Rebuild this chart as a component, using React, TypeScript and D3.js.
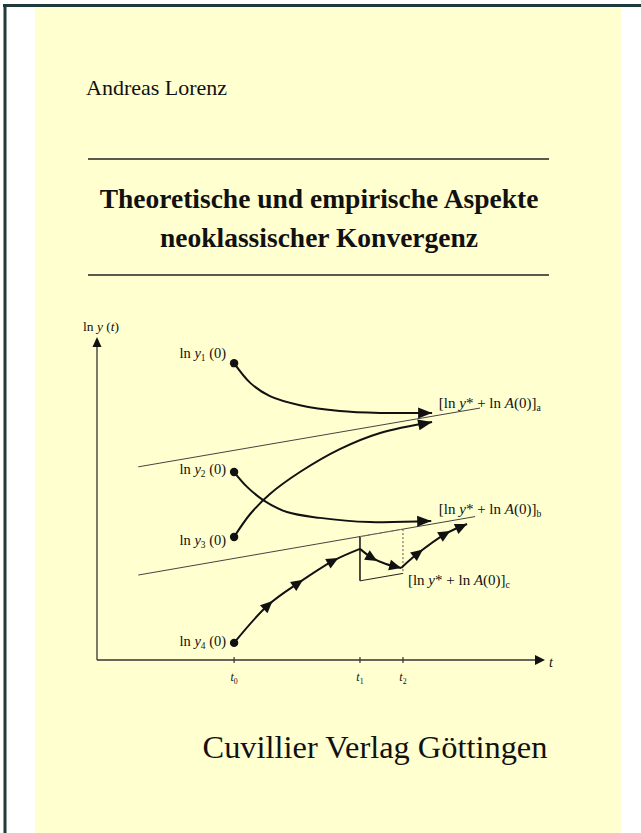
import { useEffect, useRef } from 'react';
import * as d3 from 'd3';

type Pt = [number, number];

// cover texts
const author = 'Andreas Lorenz';
const titleLines = ['Theoretische und empirische Aspekte', 'neoklassischer Konvergenz'];
const publisher = 'Cuvillier Verlag Göttingen';

// diagram values (abstract units: time 0..100, ln y 0..100)
const ticks = [
  { name: 't', sub: '0', t: 30.6 },
  { name: 't', sub: '1', t: 58.7 },
  { name: 't', sub: '2', t: 68.3 },
];

// steady state growth paths
const trendA: Pt[] = [[9.2, 59.8], [85.5, 78.0]];
const trendB: Pt[] = [[9.2, 26.3], [84.4, 44.4]];
const trendCBottom = 24.5; // ln y level after the shock at t1

// convergence paths
const pathY1: Pt[] = [[30.6, 91.9], [34.2, 85.8], [38.6, 81.7], [45.3, 78.9], [54.2, 77.1], [63.2, 76.5], [74.8, 76.5]];
const pathY2: Pt[] = [[30.6, 58.2], [33.5, 53.6], [37.1, 49.5], [42.4, 45.8], [49.8, 44.0], [60.9, 42.7], [74.6, 43.0]];
const pathY3: Pt[] = [[30.6, 38.1], [34.2, 45.2], [38.6, 51.4], [45.3, 58.2], [54.2, 65.3], [63.2, 70.3], [74.8, 73.7]];
const y4Rise: Pt[] = [[30.6, 5.3], [38.2, 17.0], [44.9, 23.8], [52.7, 30.7], [58.7, 34.4]];
const y4Drop: Pt[] = [[58.7, 34.4], [61.4, 31.6], [64.5, 29.7], [67.9, 28.5]];
const y4Recover: Pt[] = [[67.9, 28.5], [71.7, 33.1], [77.7, 39.0], [82.6, 42.1]];

const startLabels = [
  { sub: '1', at: pathY1[0], base: 91.9 + 1.6 },
  { sub: '2', at: pathY2[0], base: 58.2 - 0.6 },
  { sub: '3', at: pathY3[0], base: 38.1 - 2.5 },
  { sub: '4', at: y4Rise[0], base: 5.3 - 1.0 },
];
const steadyLabels = [
  { sub: 'a', pos: [76.3, 78.0] as Pt },
  { sub: 'b', pos: [76.3, 45.2] as Pt },
  { sub: 'c', pos: [69.4, 23.2] as Pt },
];

interface Part { t: string; i?: boolean; sub?: boolean }

export default function App() {
  const svgRef = useRef<SVGSVGElement>(null);

  useEffect(() => {
    if (!svgRef.current) return;
    const W = 641;
    const H = 833;
    const svg = d3.select(svgRef.current);
    svg.selectAll('*').remove();
    svg.attr('width', W).attr('height', H).style('font-family', '"Liberation Serif", "Times New Roman", serif');

    // page
    svg.append('rect').attr('width', W).attr('height', H).attr('fill', '#ffffff');
    svg.append('rect').attr('x', 35).attr('y', 8).attr('width', 586).attr('height', H - 8).attr('fill', '#ffffd0');
    svg.append('line').attr('x1', 3).attr('x2', W).attr('y1', 5.5).attr('y2', 5.5).attr('stroke', '#1f3a3a').attr('stroke-width', 3);
    svg.append('line').attr('x1', 5).attr('x2', 5).attr('y1', 4).attr('y2', H).attr('stroke', '#1f3a3a').attr('stroke-width', 3);

    svg.append('text').attr('x', 86).attr('y', 95).attr('font-size', 22).attr('fill', '#111').text(author);
    [159, 275].forEach(y => {
      svg.append('line').attr('x1', 88).attr('x2', 549).attr('y1', y).attr('y2', y).attr('stroke', '#222').attr('stroke-width', 1.6);
    });
    titleLines.forEach((line, i) => {
      svg.append('text').attr('x', 319).attr('y', 208 + i * 38.5).attr('text-anchor', 'middle')
        .attr('font-size', 27.5).attr('font-weight', 'bold').attr('fill', '#111').text(line);
    });
    svg.append('text').attr('x', 375).attr('y', 758).attr('text-anchor', 'middle').attr('font-size', 32.4).attr('fill', '#111').text(publisher);

    // diagram scales
    const x = d3.scaleLinear().domain([0, 100]).range([97, 545]);
    const y = d3.scaleLinear().domain([0, 100]).range([660, 337]);
    const g = svg.append('g');

    const mathText = (px: number, py: number, parts: Part[], size: number, anchor = 'start') => {
      const t = g.append('text').attr('x', px).attr('y', py).attr('font-size', size).attr('fill', '#111').attr('text-anchor', anchor);
      let shifted = false;
      parts.forEach(p => {
        const s = t.append('tspan').text(p.t);
        if (p.i) s.attr('font-style', 'italic');
        if (p.sub) {
          s.attr('font-size', size * 0.65).attr('dy', size * 0.22);
          shifted = true;
        } else if (shifted) {
          s.attr('dy', -size * 0.22);
          shifted = false;
        }
      });
      return t;
    };

    const arrowHead = (tip: Pt, ang: number, len: number, half: number) => {
      const bx = tip[0] - len * Math.cos(ang);
      const by = tip[1] - len * Math.sin(ang);
      const nx = -Math.sin(ang) * half;
      const ny = Math.cos(ang) * half;
      g.append('path')
        .attr('d', `M${tip[0]},${tip[1]}L${bx + nx},${by + ny}L${bx - nx},${by - ny}Z`)
        .attr('fill', '#111');
    };

    // axes
    g.append('line').attr('x1', x(0)).attr('x2', x(0)).attr('y1', y(0)).attr('y2', y(100) + 8).attr('stroke', '#333').attr('stroke-width', 1.3);
    g.append('line').attr('x1', x(0)).attr('x2', x(100) - 8).attr('y1', y(0)).attr('y2', y(0)).attr('stroke', '#333').attr('stroke-width', 1.3);
    arrowHead([x(0), y(100)], -Math.PI / 2, 10, 4.5);
    arrowHead([x(100), y(0)], 0, 10, 5);
    mathText(x(0) - 14, y(100) - 6, [{ t: 'ln ' }, { t: 'y', i: true }, { t: ' (' }, { t: 't', i: true }, { t: ')' }], 13.5);
    mathText(x(100) + 4, y(0) + 7, [{ t: 't', i: true }], 14);

    ticks.forEach(tk => {
      g.append('line').attr('x1', x(tk.t)).attr('x2', x(tk.t)).attr('y1', y(0) - 3).attr('y2', y(0) + 3).attr('stroke', '#333').attr('stroke-width', 1.2);
      mathText(x(tk.t), y(0) + 21, [{ t: tk.name, i: true }, { t: tk.sub, sub: true }], 12, 'middle');
    });

    // steady state lines
    const thin = (a: Pt, b: Pt, dash?: string, color = '#444', w = 1) => {
      const l = g.append('line').attr('x1', x(a[0])).attr('y1', y(a[1])).attr('x2', x(b[0])).attr('y2', y(b[1]))
        .attr('stroke', color).attr('stroke-width', w);
      if (dash) l.attr('stroke-dasharray', dash);
    };
    thin(trendA[0], trendA[1]);
    thin(trendB[0], trendB[1]);
    const onB = (t: number) => trendB[0][1] + (trendB[1][1] - trendB[0][1]) * (t - trendB[0][0]) / (trendB[1][0] - trendB[0][0]);
    const slopeB = (trendB[1][1] - trendB[0][1]) / (trendB[1][0] - trendB[0][0]);
    const t1 = ticks[1].t;
    const t2 = ticks[2].t;
    const cEnd = trendCBottom + slopeB * (t2 - t1);
    thin([t1, onB(t1)], [t1, trendCBottom], undefined, '#111', 1.5);
    thin([t1, trendCBottom], [t2, cEnd], undefined, '#222', 1);
    thin([t2, onB(t2)], [t2, cEnd], '2,2', '#555', 1);
    thin([t1, onB(t1)], [t2, onB(t2)], '2,2', '#777', 1);

    // convergence paths
    const line = d3.line<Pt>().x(d => x(d[0])).y(d => y(d[1])).curve(d3.curveCatmullRom.alpha(0.5));
    const drawPath = (pts: Pt[]) => {
      g.append('path').attr('d', line(pts) as string).attr('fill', 'none').attr('stroke', '#111').attr('stroke-width', 2);
    };
    const angAt = (pts: Pt[], i: number) => {
      const a = pts[Math.max(0, i - 1)];
      const b = pts[Math.min(pts.length - 1, i + 1)];
      return Math.atan2(y(b[1]) - y(a[1]), x(b[0]) - x(a[0]));
    };
    const midArrows = (pts: Pt[], idx: number[], withEnd: boolean, len = 12, half = 5.5) => {
      idx.forEach(i => {
        const a = angAt(pts, i);
        const cx = x(pts[i][0]);
        const cy = y(pts[i][1]);
        arrowHead([cx + Math.cos(a) * len / 2, cy + Math.sin(a) * len / 2], a, len, half);
      });
      if (withEnd) {
        const n = pts.length - 1;
        arrowHead([x(pts[n][0]), y(pts[n][1])], angAt(pts, n), len, half);
      }
    };

    [pathY1, pathY2, pathY3].forEach(p => {
      drawPath(p);
      const n = p.length - 1;
      arrowHead([x(p[n][0]), y(p[n][1])], angAt(p, n), 14, 5.5);
    });
    drawPath(y4Rise);
    drawPath(y4Drop);
    drawPath(y4Recover);
    midArrows(y4Rise, [1, 2, 3], false);
    midArrows(y4Drop, [1], true);
    midArrows(y4Recover, [1, 2], true);

    // start points and labels
    startLabels.forEach(s => {
      g.append('circle').attr('cx', x(s.at[0])).attr('cy', y(s.at[1])).attr('r', 4.2).attr('fill', '#111');
      mathText(x(s.at[0]) - 8, y(s.base), [{ t: 'ln ' }, { t: 'y', i: true }, { t: s.sub, sub: true }, { t: ' (0)' }], 14.5, 'end');
    });
    steadyLabels.forEach(s => {
      mathText(x(s.pos[0]), y(s.pos[1]), [
        { t: '[ln ' }, { t: 'y', i: true }, { t: '* + ln ' }, { t: 'A', i: true }, { t: '(0)]' }, { t: s.sub, sub: true },
      ], 15);
    });
  }, []);

  return (
    <div style={{ position: 'absolute', left: 0, top: 0 }}>
      <svg ref={svgRef} style={{ display: 'block' }} />
    </div>
  );
}
